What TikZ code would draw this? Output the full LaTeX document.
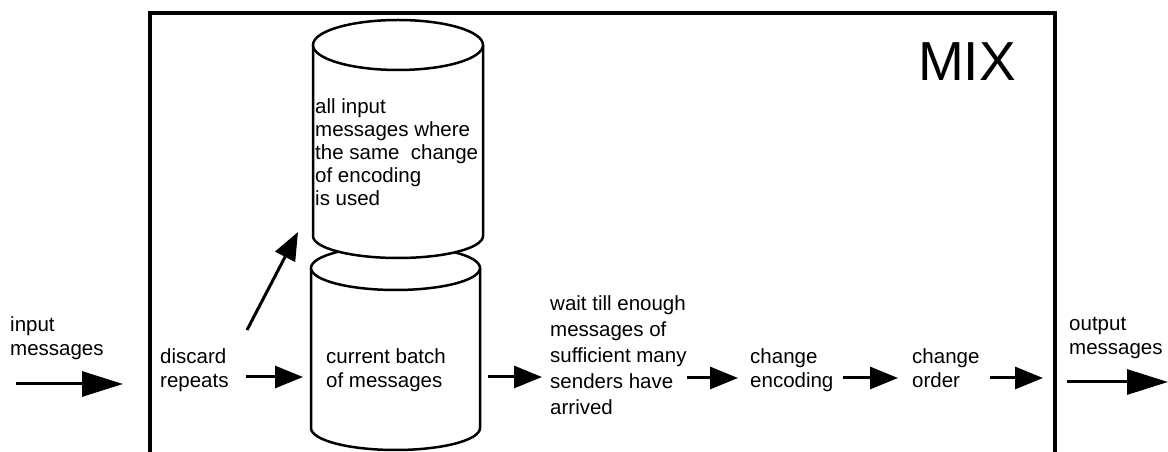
\documentclass[tikz,border=0pt]{standalone}
\usepackage{fontspec}
\setmainfont{Liberation Sans}
\usetikzlibrary{arrows.meta}
\begin{document}
\begin{tikzpicture}[x=1pt,y=1pt,
  lbl/.style={anchor=west,align=left,inner sep=0pt,font=\fontsize{20.5}{24}\selectfont},
  flow/.style={line width=3pt,-{Triangle[length=28pt,width=22pt]}},
  bigflow/.style={line width=3pt,-{Triangle[length=41pt,width=25pt]}},
  cyl/.style={line width=2.5pt,fill=white},
  frame/.style={line width=4.5pt}]
\useasboundingbox (0,0) rectangle (1168,452);
\clip (0,0) rectangle (1168,452);
% MIX frame
\draw[frame] (150,-20) -- (150,439) -- (1055,439) -- (1055,-20);
\node[inner sep=0pt,font=\fontsize{55}{60}\selectfont] (mix) at (967,390) {MIX};
% lower cylinder
\draw[cyl] (311,184) -- (311,24) arc[start angle=180,end angle=360,x radius=84.5,y radius=22] -- (480,184);
\draw[cyl] (395.5,184) ellipse[x radius=84.5,y radius=22];
% upper cylinder
\draw[cyl] (313,407) -- (313,216) arc[start angle=180,end angle=360,x radius=85,y radius=22] -- (483,407);
\draw[cyl] (398,407) ellipse[x radius=85,y radius=25];
% texts
\node[lbl] (in) at (10,114) {input\\messages};
\node[lbl] (disc) at (160,82) {discard\\repeats};
\node[lbl] (batch) at (326,82) {current batch\\of messages};
\node[lbl,font=\fontsize{20.5}{23}\selectfont] (all) at (315,300) {all input\\messages where\\the same\ \ change\\of encoding\\is used};
\node[lbl,font=\fontsize{20.5}{26}\selectfont] (wait) at (550,97) {wait till enough\\messages of\\sufficient many\\senders have\\arrived};
\node[lbl] (enc) at (750,82) {change\\encoding};
\node[lbl] (ord) at (912,84) {change\\order};
\node[lbl] (out) at (1069,114) {output\\messages};
% arrow end points
\coordinate (a1s) at (16,68);   \coordinate (a1e) at (123,68);
\coordinate (a2s) at (246,75);  \coordinate (a2e) at (303,75);
\coordinate (a3s) at (247,122); \coordinate (a3e) at (298,220);
\coordinate (a4s) at (488,75);  \coordinate (a4e) at (542,75);
\coordinate (a5s) at (687,74);  \coordinate (a5e) at (738,74);
\coordinate (a6s) at (843,74);  \coordinate (a6e) at (898,74);
\coordinate (a7s) at (990,74);  \coordinate (a7e) at (1043,74);
\coordinate (a8s) at (1067,70); \coordinate (a8e) at (1168,70);
\draw[bigflow] (a1s) -- (a1e);
\draw[flow] (a2s) -- (a2e);
\draw[flow] (a3s) -- (a3e);
\draw[flow] (a4s) -- (a4e);
\draw[flow] (a5s) -- (a5e);
\draw[flow] (a6s) -- (a6e);
\draw[flow] (a7s) -- (a7e);
\draw[bigflow] (a8s) -- (a8e);
\end{tikzpicture}
\end{document}
